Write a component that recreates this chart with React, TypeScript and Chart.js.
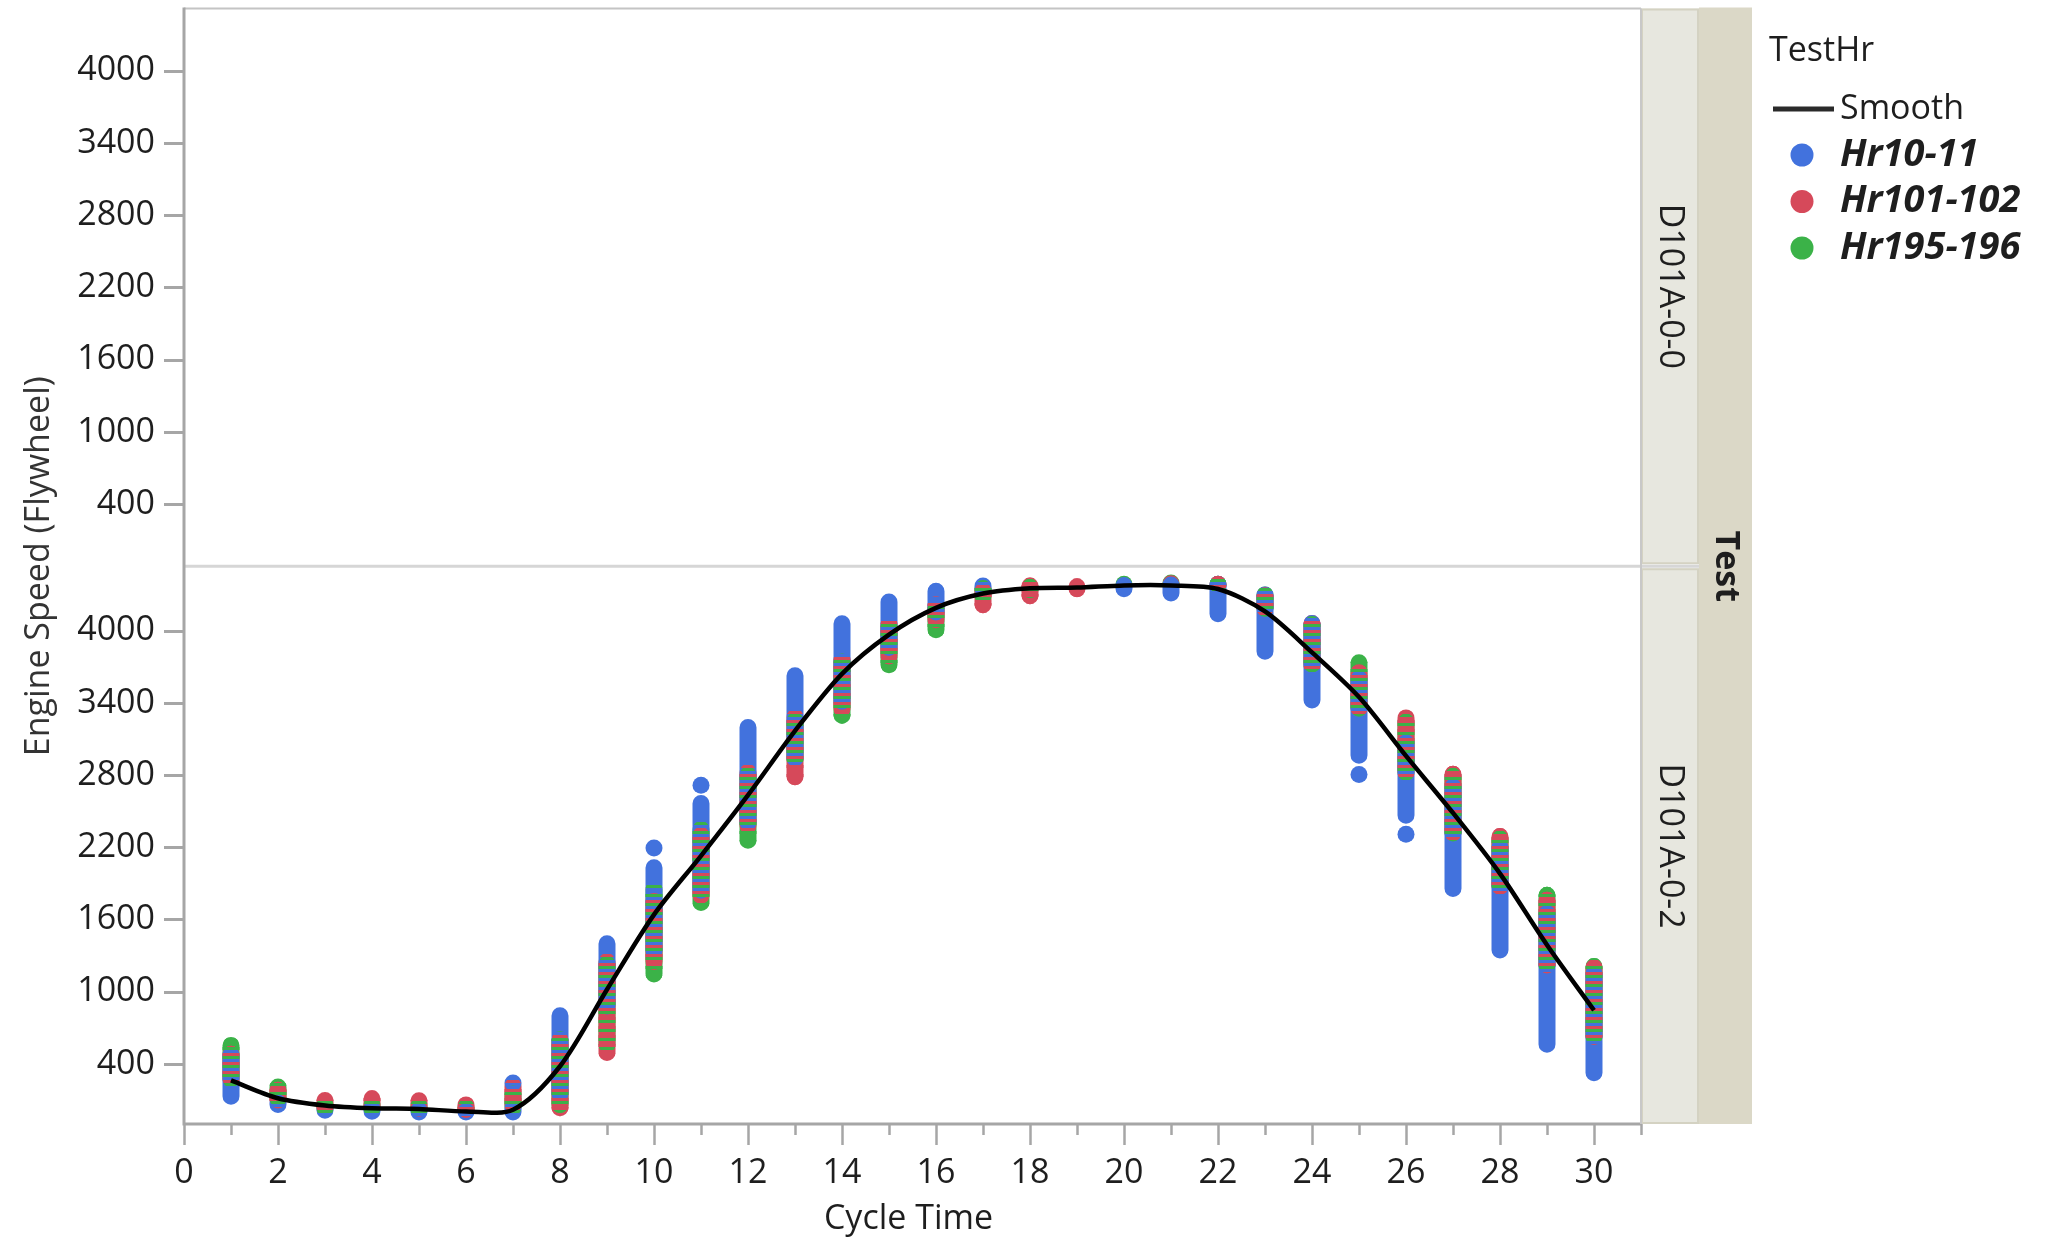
import { useEffect, useRef } from "react";
import { Chart, registerables } from "chart.js";

Chart.register(...registerables);

// ---------- data ----------
const cycleTime = [1, 2, 3, 4, 5, 6, 7, 8, 9, 10, 11, 12, 13, 14, 15, 16, 17, 18, 19, 20, 21, 22, 23, 24, 25, 26, 27, 28, 29, 30];

const smoothSpeed = [262, 114, 54, 31, 25, 4, 19, 380, 1018, 1640, 2129, 2633, 3167, 3641, 3967, 4189, 4308, 4352, 4358, 4376, 4376, 4346, 4160, 3819, 3448, 2959, 2485, 1981, 1388, 845];

// Hr10-11 (blue): low / high of the column of points at each cycle time
const hr10Lo = [130, 62, 14, 6, 0, 0, 0, 154, 880, 1340, 1843, 2407, 2940, 3414, 3859, 4155, 4348, null, null, 4348, 4312, 4141, 3829, 3423, 2964, 2466, 1858, 1346, 563, 326];
const hr10Hi = [473, 75, 20, 29, 14, 4, 30, 799, 1398, 2029, 2563, 3194, 3624, 4057, 4238, 4327, 4371, null, null, 4375, 4380, 4386, 4297, 4060, 3600, 3067, 2700, 2200, 1650, 1150];
const hr10Single: [number, number][] = [[7, 240], [10, 2194], [11, 2716], [25, 2805], [26, 2307]];

// Hr101-102 (red)
const hr101Lo = [273, 100, 40, 40, 30, 20, 60, 36, 495, 1250, 1800, 2380, 2786, 3350, 3790, 4090, 4215, 4289, 4348, null, null, 4380, 4185, 3711, 3355, 2822, 2318, 1873, 1221, 628];
const hr101Hi = [480, 180, 96, 109, 94, 58, 215, 600, 1250, 1750, 2300, 2823, 3282, 3756, 4053, 4216, 4330, 4371, 4365, null, null, 4386, 4290, 4060, 3650, 3274, 2806, 2290, 1760, 1200];
const hr101Single: [number, number][] = [[21, 4390]];

// Hr195-196 (green)
const hr195Lo = [273, 110, 30, 30, 20, 15, 40, 60, 560, 1147, 1740, 2258, 2932, 3296, 3717, 4007, 4290, 4340, null, null, null, 4380, 4185, 3720, 3355, 2822, 2318, 1880, 1221, 628];
const hr195Hi = [553, 207, 60, 60, 50, 40, 150, 600, 1230, 1850, 2350, 2800, 3250, 3740, 4030, 4180, 4350, 4360, null, null, null, 4386, 4297, 4050, 3734, 3240, 2790, 2270, 1801, 1208];
const hr195Single: [number, number][] = [[20, 4386], [21, 4395]];

const yTickValues = [400, 1000, 1600, 2200, 2800, 3400, 4000];
const seriesNames = ["Hr10-11", "Hr101-102", "Hr195-196"];
const panelLabels = ["D101A-0-0", "D101A-0-2"];

// ---------- styles ----------
const BLUE = "#4272DD";
const RED = "#D6495A";
const GREEN = "#3BB248";
const FONT = "'Open Sans', 'Noto Sans', sans-serif";
const FS = 34;
const AXIS = "#a6a6a6";
const TEXT = "#1e1e1e";

export default function App() {
  const ref = useRef<HTMLCanvasElement>(null);

  useEffect(() => {
    document.body.style.margin = "0";
    document.body.style.overflow = "hidden";
    const canvas = ref.current!;

    const stripe = (color: string, offset: number) => {
      const c = document.createElement("canvas");
      c.width = 1;
      c.height = 9;
      const g = c.getContext("2d")!;
      g.fillStyle = color;
      g.fillRect(0, offset, 1, 3);
      return g.createPattern(c, "repeat")!;
    };

    const ranges = (lo: (number | null)[], hi: (number | null)[]) => {
      const out: { x: number; y: number | null }[] = [];
      cycleTime.forEach((x, i) => {
        if (lo[i] == null || hi[i] == null) return;
        out.push({ x, y: lo[i] }, { x, y: hi[i] }, { x, y: null });
      });
      return out;
    };
    const pts = (arr: [number, number][]) => arr.map(([x, y]) => ({ x, y }));

    const capsule = (data: any[], color: any, order: number) => ({
      type: "line" as const,
      data,
      yAxisID: "yBot",
      borderColor: color,
      backgroundColor: color,
      borderWidth: 17,
      borderCapStyle: "round" as const,
      borderJoinStyle: "round" as const,
      pointRadius: 0,
      pointHoverRadius: 0,
      fill: false,
      tension: 0,
      spanGaps: false,
      order,
    });
    const dots = (data: any[], color: string, order: number) => ({
      type: "scatter" as const,
      data,
      yAxisID: "yBot",
      backgroundColor: color,
      pointBackgroundColor: color,
      borderWidth: 0,
      pointBorderWidth: 0,
      pointRadius: 8.5,
      pointHoverRadius: 8.5,
      showLine: false,
      order,
    });

    const blueR = ranges(hr10Lo, hr10Hi);
    const redR = ranges(hr101Lo, hr101Hi);
    const greenR = ranges(hr195Lo, hr195Hi);

    const datasets: any[] = [
      {
        type: "line",
        label: "Smooth",
        data: cycleTime.map((x, i) => ({ x, y: smoothSpeed[i] })),
        yAxisID: "yBot",
        borderColor: "#000",
        borderWidth: 4.5,
        pointRadius: 0,
        tension: 0.3,
        fill: false,
        order: 1,
      },
      capsule(greenR, stripe(GREEN, 3), 2),
      capsule(redR, stripe(RED, 0), 3),
      dots(pts(hr10Single), BLUE, 4),
      capsule(blueR, BLUE, 5),
      dots(pts(hr101Single), RED, 6),
      capsule(redR, RED, 7),
      dots(pts(hr195Single), GREEN, 8),
      capsule(greenR, GREEN, 9),
    ];

    const yAxis = (min: number, max: number) => ({
      type: "linear" as const,
      position: "left" as const,
      stack: "panels",
      stackWeight: 1,
      min,
      max,
      grid: { display: false },
      border: { display: false },
      ticks: {
        autoSkip: false,
        padding: 21,
        color: TEXT,
        font: { family: FONT, size: FS },
        callback: (v: any) => String(v),
      },
      afterBuildTicks: (s: any) => {
        s.ticks = yTickValues.map((v) => ({ value: v }));
      },
      afterFit: (s: any) => {
        s.width = 184;
        s.paddingTop = 0;
        s.paddingBottom = 0;
      },
    });

    const deco = {
      id: "deco",
      beforeDraw(chart: any) {
        const { ctx } = chart;
        ctx.save();
        ctx.fillStyle = "#fff";
        ctx.fillRect(0, 0, chart.width, chart.height);
        ctx.restore();
      },
      beforeDatasetsDraw(chart: any) {
        const { ctx, chartArea } = chart;
        const yB = chart.scales.yBot;
        ctx.save();
        ctx.strokeStyle = "#c4c4c4";
        ctx.lineWidth = 2;
        ctx.beginPath();
        ctx.moveTo(chartArea.left, chartArea.top);
        ctx.lineTo(chartArea.right, chartArea.top);
        ctx.stroke();
        ctx.strokeStyle = "#d6d6d6";
        ctx.lineWidth = 3;
        ctx.beginPath();
        ctx.moveTo(chartArea.left, yB.top);
        ctx.lineTo(chartArea.right, yB.top);
        ctx.stroke();
        ctx.restore();
      },
      afterDraw(chart: any) {
        const { ctx, chartArea } = chart;
        const x = chart.scales.x;
        const yT = chart.scales.yTop;
        const yB = chart.scales.yBot;
        const L = chartArea.left;
        const R = chartArea.right;
        const B = chartArea.bottom;
        const T = chartArea.top;
        ctx.save();

        // axis lines
        ctx.strokeStyle = AXIS;
        ctx.lineWidth = 3;
        ctx.beginPath();
        ctx.moveTo(L, T - 1);
        ctx.lineTo(L, B);
        ctx.lineTo(R, B);
        ctx.stroke();

        // y tick marks
        ctx.lineWidth = 3;
        [yT, yB].forEach((s: any) => {
          s.ticks.forEach((t: any) => {
            const py = Math.round(s.getPixelForValue(t.value)) + 0.5;
            ctx.beginPath();
            ctx.moveTo(L - 20, py);
            ctx.lineTo(L, py);
            ctx.stroke();
          });
        });
        // x tick marks
        ctx.lineWidth = 2.5;
        x.ticks.forEach((t: any) => {
          const px = Math.round(x.getPixelForValue(t.value)) + 0.5;
          const len = t.value % 2 === 0 ? 21 : 11;
          ctx.beginPath();
          ctx.moveTo(px, B);
          ctx.lineTo(px, B + len);
          ctx.stroke();
        });

        // strips
        const s1 = R;
        const s1w = 58;
        const s2 = R + s1w;
        const s2w = 53;
        ctx.fillStyle = "#DBD8C7";
        ctx.fillRect(s2, T - 1, s2w, B - T + 1);
        const cells = [
          [yT.top, yT.bottom - 2],
          [yB.top + 2, yB.bottom],
        ];
        cells.forEach(([a, b], i) => {
          ctx.fillStyle = "#E7E7DF";
          ctx.fillRect(s1, a, s1w, b - a);
          ctx.strokeStyle = "#D4D2C2";
          ctx.lineWidth = 2;
          ctx.strokeRect(s1 + 1, a + 1, s1w - 2, b - a - 2);
          ctx.save();
          ctx.translate(s1 + s1w / 2, (a + b) / 2);
          ctx.rotate(Math.PI / 2);
          ctx.fillStyle = TEXT;
          ctx.font = `${FS}px ${FONT}`;
          ctx.textAlign = "center";
          ctx.textBaseline = "middle";
          ctx.fillText(panelLabels[i], 0, 0);
          ctx.restore();
        });
        ctx.strokeStyle = "#d6d6d6";
        ctx.lineWidth = 3;
        ctx.beginPath();
        ctx.moveTo(s1, yB.top);
        ctx.lineTo(s2, yB.top);
        ctx.stroke();
        ctx.strokeStyle = "#c8c8c8";
        ctx.lineWidth = 2;
        ctx.beginPath();
        ctx.moveTo(R, T);
        ctx.lineTo(R, B);
        ctx.stroke();
        ctx.save();
        ctx.translate(s2 + s2w / 2, (yT.top + yB.bottom) / 2);
        ctx.rotate(Math.PI / 2);
        ctx.fillStyle = TEXT;
        ctx.font = `bold ${FS}px ${FONT}`;
        ctx.textAlign = "center";
        ctx.textBaseline = "middle";
        ctx.fillText("Test", 0, 0);
        ctx.restore();

        // axis titles
        ctx.fillStyle = TEXT;
        ctx.font = `${FS}px ${FONT}`;
        ctx.textAlign = "center";
        ctx.textBaseline = "middle";
        ctx.fillText("Cycle Time", (L + R) / 2 - 4, 1219);
        ctx.save();
        ctx.translate(39, (T + B) / 2);
        ctx.rotate(-Math.PI / 2);
        ctx.fillStyle = "#333";
        ctx.fillText("Engine Speed (Flywheel)", 0, 0);
        ctx.restore();

        // legend
        ctx.textAlign = "left";
        ctx.fillStyle = TEXT;
        ctx.font = `${FS}px ${FONT}`;
        ctx.fillText("TestHr", 1769, 51);
        ctx.strokeStyle = "#2a2a2a";
        ctx.lineWidth = 5;
        ctx.beginPath();
        ctx.moveTo(1773, 109);
        ctx.lineTo(1834, 109);
        ctx.stroke();
        ctx.fillText("Smooth", 1840, 109);
        const cols = [BLUE, RED, GREEN];
        seriesNames.forEach((name, i) => {
          const yy = 155 + i * 46.5;
          ctx.fillStyle = cols[i];
          ctx.beginPath();
          ctx.arc(1802, yy, 11.5, 0, Math.PI * 2);
          ctx.fill();
          ctx.fillStyle = TEXT;
          ctx.font = `italic bold 38px ${FONT}`;
          ctx.fillText(name, 1840, yy);
        });

        ctx.restore();
      },
    };

    const chart = new Chart(canvas, {
      type: "line",
      data: { datasets },
      options: {
        responsive: false,
        animation: false,
        events: [],
        layout: { padding: { left: 0, top: 8, right: 408, bottom: 0 } },
        plugins: { legend: { display: false }, tooltip: { enabled: false }, title: { display: false } },
        scales: {
          x: {
            type: "linear",
            position: "bottom",
            min: 0,
            max: 31,
            grid: { display: false },
            border: { display: false },
            ticks: {
              stepSize: 1,
              autoSkip: false,
              maxRotation: 0,
              padding: 21,
              color: TEXT,
              font: { family: FONT, size: FS },
              callback: (v: any) => (Number(v) % 2 === 0 ? String(v) : ""),
            },
            afterFit: (s: any) => {
              s.height = 122;
              s.paddingLeft = 0;
              s.paddingRight = 0;
            },
          },
          yBot: yAxis(-100, 4535),
          yTop: yAxis(-115, 4515),
        },
      } as any,
      plugins: [deco],
    });

    return () => chart.destroy();
  }, []);

  return (
    <div style={{ position: "absolute", left: 0, top: 0, width: 2049, height: 1246 }}>
      <canvas ref={ref} width={2049} height={1246} style={{ width: 2049, height: 1246, display: "block" }} />
    </div>
  );
}
